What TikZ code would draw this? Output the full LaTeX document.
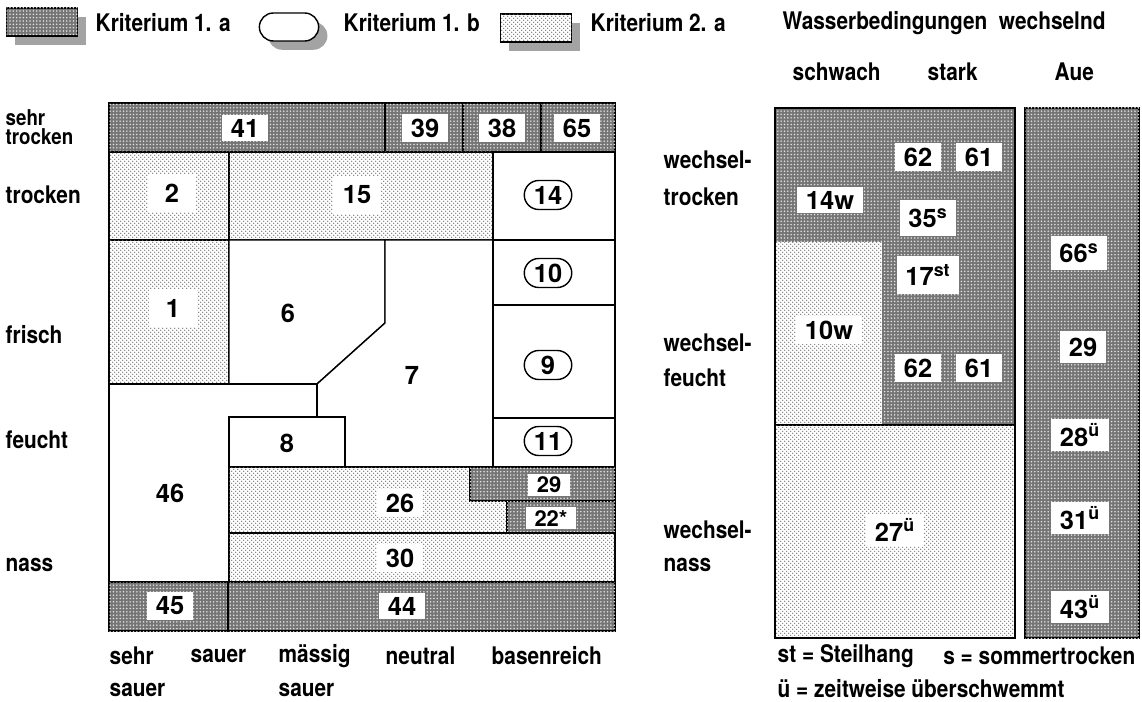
\documentclass[tikz,border=0pt]{standalone}
\usepackage{fontspec}
\setmainfont{TeX Gyre Heros}
\newfontfamily\condfont{TeX Gyre Heros}[FakeStretch=0.86]
\usetikzlibrary{patterns,shapes.misc,shadows}
\pgfdeclarepatternformonly{sparse dots}{\pgfqpoint{-0.5pt}{-0.5pt}}{\pgfqpoint{2pt}{2pt}}{\pgfqpoint{2.5pt}{2.5pt}}{%
  \pgfpathcircle{\pgfqpoint{0pt}{0pt}}{.38pt}
  \pgfpathcircle{\pgfqpoint{1.25pt}{1.25pt}}{.38pt}
  \pgfusepath{fill}}
\pgfdeclarepatternformonly{dense dots}{\pgfqpoint{-0.6pt}{-0.6pt}}{\pgfqpoint{0.6pt}{0.6pt}}{\pgfqpoint{1.9pt}{1.9pt}}{%
  \pgfpathcircle{\pgfqpoint{0pt}{0pt}}{.5pt}
  \pgfusepath{fill}}
\colorlet{darkcol}{black!54}
\colorlet{darkdot}{black!12}
\colorlet{lightdot}{black!62}
\newcommand\numfont{\fontsize{14.5}{16}\selectfont\bfseries}
\newcommand\smallnumfont{\fontsize{12.5}{14}\selectfont\bfseries}
\newcommand\labfont{\fontsize{13.8}{15}\selectfont\condfont\bfseries}
\newcommand\tightlabfont{\fontsize{12.4}{11}\selectfont\condfont\bfseries}
\tikzstyle{kritA}=[draw,fill=darkcol,postaction={pattern=dense dots,pattern color=darkdot}]
\tikzstyle{kritAfill}=[fill=darkcol,postaction={pattern=dense dots,pattern color=darkdot}]
\tikzstyle{kritB}=[draw,fill=white]
\tikzstyle{kritC}=[draw,fill=white,postaction={pattern=sparse dots,pattern color=lightdot}]
\tikzstyle{kritCfill}=[fill=white,postaction={pattern=sparse dots,pattern color=lightdot}]
\tikzstyle{num}=[fill=white,inner xsep=5pt,inner ysep=2.5pt,font=\numfont]
\tikzstyle{oval}=[draw,fill=white,rounded rectangle,minimum width=1.02cm,
                  minimum height=0.58cm,inner sep=1pt,font=\numfont]
\tikzstyle{lab}=[anchor=west,inner sep=0pt,font=\labfont]
\tikzset{
  legbox/.style={minimum width=1.42cm,minimum height=0.56cm,
                 drop shadow={shadow xshift=5pt,shadow yshift=-5pt,
                              fill=black!45,opacity=0.8}}}

\begin{document}
\begin{tikzpicture}[x=0.02cm,y=-0.02cm,line width=0.8pt]
  \def\xL{109}
  \def\xR{615}
  \def\yT{103}
  \def\yB{631}
  \useasboundingbox (0,0) rectangle (1142,702);

  % LEGEND
  \node[kritA,legbox] (legA) at (42,22) {};
  \node[lab] (legAtxt) at (95,23) {Kriterium 1. a};
  \node[kritB,rounded rectangle,legbox] (legB) at (289,27) {};
  \node[lab] (legBtxt) at (343,23) {Kriterium 1. b};
  \node[kritC,legbox] (legC) at (536,28) {};
  \node[lab] (legCtxt) at (590,23) {Kriterium 2. a};

  % SOIL TABLE
  \draw[kritA] (\xL,\yT) rectangle (385,152);
  \draw[kritA] (385,\yT) rectangle (463,152);
  \draw[kritA] (463,\yT) rectangle (541,152);
  \draw[kritA] (541,\yT) rectangle (\xR,152);
  \draw[kritC] (\xL,152) rectangle (229,240);
  \draw[kritC] (229,152) rectangle (493,240);
  \draw[kritB] (493,152) rectangle (\xR,240);
  \draw[kritC] (\xL,240) rectangle (229,384);
  \draw[kritB] (229,240) -- (385,240) -- (385,323) -- (317,384) -- (229,384) -- cycle;
  \draw[kritB] (385,240) -- (493,240) -- (493,467) -- (345,467) -- (345,417)
               -- (317,417) -- (317,384) -- (385,323) -- cycle;
  \draw[kritB] (\xL,384) -- (317,384) -- (317,417) -- (229,417) -- (229,582)
               -- (\xL,582) -- cycle;
  \draw[kritB] (229,417) rectangle (345,467);
  \draw[kritB] (493,240) rectangle (\xR,305);
  \draw[kritB] (493,305) rectangle (\xR,418);
  \draw[kritB] (493,418) rectangle (\xR,467);
  \draw[kritC] (229,467) -- (470,467) -- (470,501) -- (507,501) -- (507,533)
               -- (229,533) -- cycle;
  \draw[kritA] (470,467) rectangle (\xR,501);
  \draw[kritA] (507,501) rectangle (\xR,533);
  \draw[kritC] (229,533) rectangle (\xR,582);
  \draw[kritA] (\xL,582) rectangle (228,\yB);
  \draw[kritA] (228,582) rectangle (\xR,\yB);

  % NUMBERS
  \node[num] (n41) at (245,128) {41};
  \node[num] (n39) at (425,128) {39};
  \node[num] (n38) at (502,128) {38};
  \node[num] (n65) at (577,128) {65};
  \node[num,minimum width=0.95cm,minimum height=0.75cm] (n2) at (172,193) {2};
  \node[num,minimum width=0.95cm,minimum height=0.75cm] (n15) at (357,195) {15};
  \node[oval] (n14) at (548,195) {14};
  \node[num,minimum width=0.95cm,minimum height=0.75cm] (n1) at (173,308) {1};
  \node[num] (n6) at (288,313) {6};
  \node[num] (n7) at (412,375) {7};
  \node[oval] (n10) at (548,273) {10};
  \node[oval] (n9) at (548,365) {9};
  \node[oval] (n11) at (548,441) {11};
  \node[num] (n8) at (287,443) {8};
  \node[num] (n46) at (170,493) {46};
  \node[num] (n26) at (400,503) {26};
  \node[num,font=\smallnumfont,inner ysep=1.5pt] (n29) at (549,485) {29};
  \node[num,font=\smallnumfont,inner ysep=1.5pt] (n22) at (551,518) {22*};
  \node[num] (n30) at (400,558) {30};
  \node[num] (n45) at (170,606) {45};
  \node[num] (n44) at (402,606) {44};

  % MOISTURE AND PH LABELS
  \node[lab,align=left,font=\tightlabfont] (ySehr) at (5,127) {sehr\\trocken};
  \node[lab] (yTrocken) at (5,195) {trocken};
  \node[lab] (yFrisch) at (5,335) {frisch};
  \node[lab] (yFeucht) at (5,440) {feucht};
  \node[lab] (yNass) at (5,565) {nass};
  \node[lab] (xSehr) at (109,656) {sehr};
  \node[lab] (xSauer) at (190,656) {sauer};
  \node[lab] (xMaessig) at (278,656) {mässig};
  \node[lab] (xNeutral) at (385,656) {neutral};
  \node[lab] (xBasen) at (491,656) {basenreich};
  \node[lab] (xSehrS) at (109,690) {sauer};
  \node[lab] (xMaessigS) at (278,690) {sauer};

  % CHANGING WATER
  \node[lab] (wTitle) at (782,23) {Wasserbedingungen\ \ wechselnd};
  \node[lab] (wSchwach) at (792,72) {schwach};
  \node[lab] (wStark) at (927,72) {stark};
  \node[lab] (wAue) at (1054,72) {Aue};
  \node[lab] (wTr1) at (663,160) {wechsel-};
  \node[lab] (wTr2) at (663,197) {trocken};
  \node[lab] (wFe1) at (663,343) {wechsel-};
  \node[lab] (wFe2) at (663,378) {feucht};
  \node[lab] (wNa1) at (663,530) {wechsel-};
  \node[lab] (wNa2) at (663,565) {nass};

  \path[kritAfill] (775,108) rectangle (1015,425);
  \path[kritCfill] (775,242) rectangle (882,425);
  \draw[kritC] (775,425) rectangle (1015,638);
  \draw (775,108) rectangle (1015,638);
  \draw[kritA] (1025,108) rectangle (1139,638);

  \node[num] (w62a) at (918,157) {62};
  \node[num] (w61a) at (979,157) {61};
  \node[num] (w14) at (830,200) {14w};
  \node[num,inner ysep=5pt] (w35) at (928,218) {35\textsuperscript{s}};
  \node[num,inner ysep=5pt] (w17) at (928,275) {17\textsuperscript{st}};
  \node[num] (w10) at (829,330) {10w};
  \node[num] (w62b) at (918,368) {62};
  \node[num] (w61b) at (979,368) {61};
  \node[num] (w27) at (895,530) {27\textsuperscript{ü}};
  \node[num,inner ysep=4pt] (a66) at (1079,253) {66\textsuperscript{s}};
  \node[num,inner ysep=4pt] (a29) at (1083,347) {29};
  \node[num] (a28) at (1080,435) {28\textsuperscript{ü}};
  \node[num] (a31) at (1080,518) {31\textsuperscript{ü}};
  \node[num] (a43) at (1080,607) {43\textsuperscript{ü}};

  \node[lab] (noteSt) at (777,656) {st = Steilhang};
  \node[lab,anchor=east] (noteS) at (1136,656) {s = sommertrocken};
  \node[lab] (noteU) at (777,689) {ü = zeitweise überschwemmt};
\end{tikzpicture}
\end{document}
